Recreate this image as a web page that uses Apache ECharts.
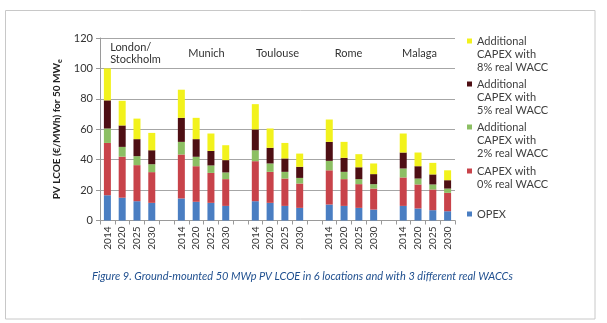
<!DOCTYPE html>
<html>
<head>
<meta charset="utf-8">
<script src="https://cdn.jsdelivr.net/npm/echarts@6/dist/echarts.min.js"></script>
<style>
html,body{margin:0;padding:0;background:#fff;}
#chart{width:607px;height:323px;}
</style>
</head>
<body>
<div id="chart"></div>
<script>
var cities = ['London/\nStockholm', 'Munich', 'Toulouse', 'Rome', 'Malaga'];
var years = ['2014', '2020', '2025', '2030'];
var yTicks = [0, 20, 40, 60, 80, 100, 120];

// segment values (€/MWh), 4 years per city, cities in order above
var opex   = [16.6, 15.0, 12.7, 11.6,  14.5, 12.3, 11.6, 9.6,  12.7, 11.6, 9.6, 8.3,  10.5, 9.6, 8.3, 7.2,  9.6, 7.9, 6.8, 6.1];
var capex0 = [34.4, 27.0, 23.7, 20.2,  28.9, 23.4, 19.7, 17.6,  26.3, 20.4, 18.0, 16.0,  22.5, 17.6, 15.6, 13.8,  18.7, 15.8, 13.6, 12.1];
var add2   = [9.5, 6.4, 5.9, 5.2,  8.3, 6.2, 4.9, 4.4,  7.2, 5.5, 4.4, 3.7,  6.2, 4.8, 3.3, 2.9,  5.9, 3.9, 3.3, 2.8];
var add5   = [18.5, 14.1, 11.2, 9.2,  15.8, 11.6, 9.6, 8.1,  13.7, 10.3, 8.8, 7.3,  12.5, 9.2, 7.8, 6.6,  10.5, 8.1, 6.6, 5.5];
var add8   = [21.0, 16.2, 13.5, 11.4,  18.5, 14.0, 11.4, 9.8,  16.6, 12.7, 10.2, 8.7,  14.7, 10.5, 8.6, 7.0,  12.5, 9.0, 7.6, 6.5];

var seriesNames = [
  'OPEX',
  'CAPEX with\n0% real WACC',
  'Additional\nCAPEX with\n2% real WACC',
  'Additional\nCAPEX with\n5% real WACC',
  'Additional\nCAPEX with\n8% real WACC'
];
var seriesValues = [opex, capex0, add2, add5, add8];
var colors = ['#4a7ec2', '#c8434a', '#8cbf63', '#4e0f14', '#f2f21c'];

// build category axis with a gap between city groups
var categories = [];
cities.forEach(function (c, ci) {
  years.forEach(function (y) { categories.push(y); });
  if (ci < cities.length - 1) categories.push('');
});
function expand(arr) {
  var out = [];
  var k = 0;
  categories.forEach(function (c) {
    if (c === '') out.push(null); else out.push(arr[k++]);
  });
  return out;
}

var FONT = 'Lato, "Open Sans", sans-serif';
var chart = echarts.init(document.getElementById('chart'), null, {renderer: 'canvas'});

var series = seriesValues.map(function (vals, i) {
  return {
    name: seriesNames[i],
    type: 'bar',
    stack: 'total',
    barWidth: 7,
    data: expand(vals),
    itemStyle: {color: colors[i]},
    emphasis: {disabled: true},
    animation: false
  };
});

// legends: top to bottom 8%,5%,2%,0%,OPEX ; icon aligned with the first text line
var legendTops = [8.5, 51.5, 94.5, 151.5, 207.5];
var legendOrder = [4, 3, 2, 1, 0];
var legends = legendOrder.map(function (si, k) {
  return {
    data: [seriesNames[si]],
    left: 467,
    top: legendTops[k],
    padding: 0,
    orient: 'vertical',
    icon: 'rect',
    itemWidth: 5,
    itemHeight: 5,
    selectedMode: false,
    formatter: function (name) {
      var n = name.split('\n').length;
      return new Array(n).join('\n') + name;
    },
    textStyle: {
      fontFamily: FONT,
      fontSize: 11,
      color: '#404040',
      lineHeight: 13
    }
  };
});

chart.setOption({
  animation: false,
  backgroundColor: '#fff',
  textStyle: {fontFamily: FONT},
  title: {
    text: 'Figure 9. Ground-mounted 50 MWp PV LCOE in 6 locations and with 3 different real WACCs',
    left: 92,
    top: 271,
    padding: 0,
    textStyle: {
      fontFamily: FONT,
      fontSize: 11,
      fontStyle: 'italic',
      fontWeight: 'normal',
      color: '#1f4f8f'
    }
  },
  legend: legends,
  grid: {left: 100, right: 152, top: 38, bottom: 102.5},
  xAxis: [{
    type: 'category',
    data: categories,
    position: 'bottom',
    axisLine: {lineStyle: {color: '#9a9a9a', width: 1}},
    axisTick: {show: true, interval: 0, length: 4, lineStyle: {color: '#9a9a9a'}},
    axisLabel: {interval: 0, rotate: 90, fontSize: 10, color: '#333', margin: 6, fontFamily: FONT}
  }, {
    type: 'category',
    data: cities,
    position: 'top',
    axisLine: {show: false},
    axisTick: {show: false},
    axisLabel: {
      inside: true,
      interval: 0,
      margin: 15,
      verticalAlign: 'middle',
      fontSize: 11,
      color: '#333',
      fontFamily: FONT,
      lineHeight: 12,
      formatter: function (v) {
        return v.split('\n').map(function (s) { return '{l|' + s + '}'; }).join('\n');
      },
      rich: {l: {align: 'left', fontSize: 11, color: '#333', fontFamily: FONT, lineHeight: 12}}
    }
  }],
  yAxis: {
    type: 'value',
    min: yTicks[0],
    max: yTicks[yTicks.length - 1],
    interval: 20,
    name: 'PV LCOE (€/MWh) for 50 MW{s|e}',
    nameLocation: 'middle',
    nameGap: 33,
    nameTextStyle: {
      fontFamily: FONT, fontSize: 10, fontWeight: 'bold', color: '#222', lineHeight: 13,
      rich: {s: {fontSize: 7, fontWeight: 'bold', color: '#222', verticalAlign: 'bottom', lineHeight: 13, padding: [4, 0, 0, 0]}}
    },
    axisLine: {show: true, lineStyle: {color: '#9a9a9a'}},
    axisTick: {show: true, length: 4, lineStyle: {color: '#9a9a9a'}},
    axisLabel: {fontSize: 11, color: '#333', margin: 7, fontFamily: FONT},
    splitLine: {lineStyle: {color: '#a6a6a6', width: 1}}
  },
  series: series,
  graphic: [{
    type: 'rect',
    shape: {x: 5.5, y: 10.5, width: 589.5, height: 308.5},
    style: {fill: 'none', stroke: '#c8c8c8', lineWidth: 1},
    silent: true,
    z: -10
  }]
});
</script>
</body>
</html>
